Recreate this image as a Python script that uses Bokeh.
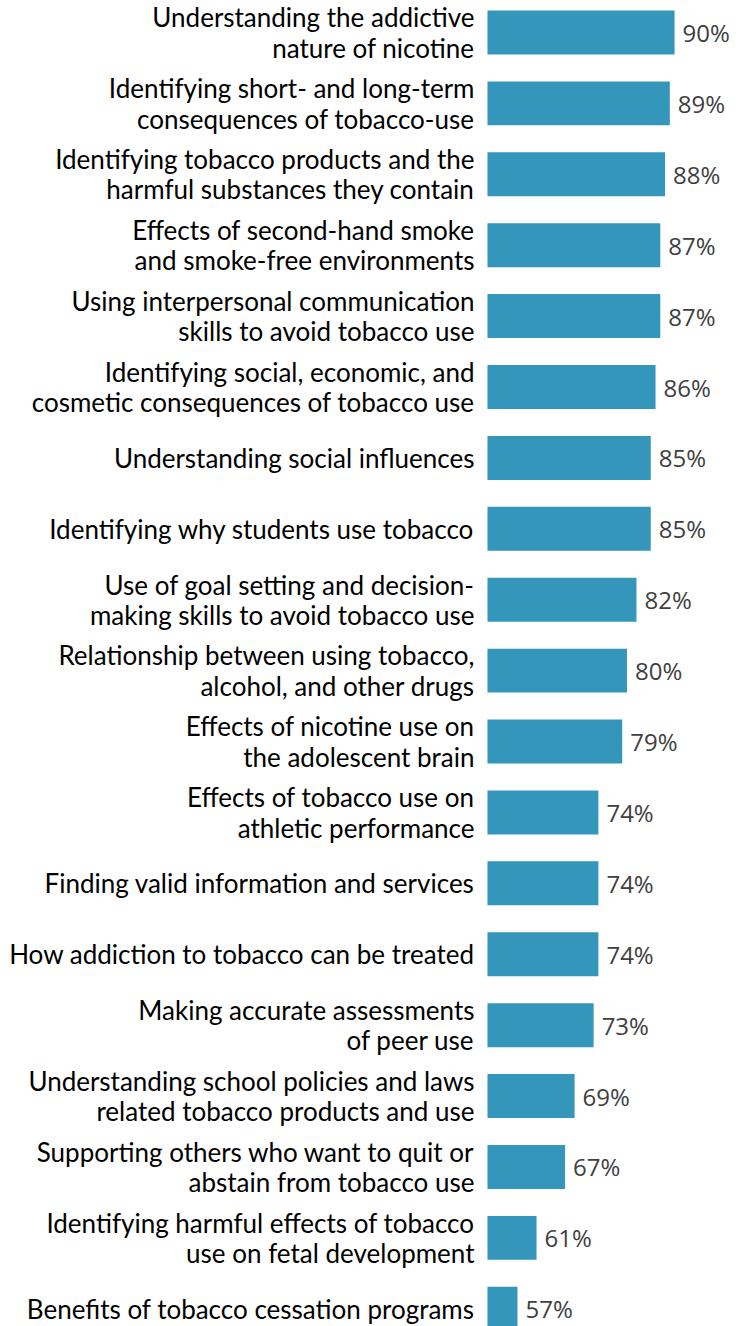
from bokeh.plotting import figure
from bokeh.models import Range1d, ColumnDataSource
from bokeh.core.properties import value
from bokeh.embed import file_html
from bokeh.resources import INLINE

categories = [
    "Understanding the addictive\nnature of nicotine",
    "Identifying short- and long-term\nconsequences of tobacco-use",
    "Identifying tobacco products and the\nharmful substances they contain",
    "Effects of second-hand smoke\nand smoke-free environments",
    "Using interpersonal communication\nskills to avoid tobacco use",
    "Identifying social, economic, and\ncosmetic consequences of tobacco use",
    "Understanding social influences",
    "Identifying why students use tobacco",
    "Use of goal setting and decision-\nmaking skills to avoid tobacco use",
    "Relationship between using tobacco,\nalcohol, and other drugs",
    "Effects of nicotine use on\nthe adolescent brain",
    "Effects of tobacco use on\nathletic performance",
    "Finding valid information and services",
    "How addiction to tobacco can be treated",
    "Making accurate assessments\nof peer use",
    "Understanding school policies and laws\nrelated tobacco products and use",
    "Supporting others who want to quit or\nabstain from tobacco use",
    "Identifying harmful effects of tobacco\nuse on fetal development",
    "Benefits of tobacco cessation programs",
]
values = [90, 89, 88, 87, 87, 86, 85, 85, 82, 80, 79, 74, 74, 74, 73, 69, 67, 61, 57]
value_labels = [f"{v}%" for v in values]

x_min = 50.7
idx = list(range(len(categories)))

src = ColumnDataSource(dict(y=idx, cat=categories, v=values, lab=value_labels,
                            base=[x_min] * len(values)))

p = figure(width=740, height=1326, output_backend="svg", toolbar_location=None,
           x_range=Range1d(-51.6, 103.85), y_range=Range1d(18.25, -0.451),
           min_border=0)
p.axis.visible = False
p.grid.visible = False
p.outline_line_color = None
p.background_fill_color = "white"

p.hbar(y="y", left="base", right="v", height=0.62, source=src,
       fill_color="#3596BC", line_color=None)

p.text(x="base", y="y", text="cat", source=src, text_align="right",
       text_baseline="middle", x_offset=-13, text_font=value("Lato"),
       text_font_size="26px", text_color="#000000", text_line_height=0.95)

p.text(x="v", y="y", text="lab", source=src, text_align="left",
       text_baseline="middle", x_offset=8, y_offset=0, text_font=value("Open Sans"),
       text_font_size="24px", text_color="#404040")

open("out.html", "w").write(file_html(p, INLINE))
